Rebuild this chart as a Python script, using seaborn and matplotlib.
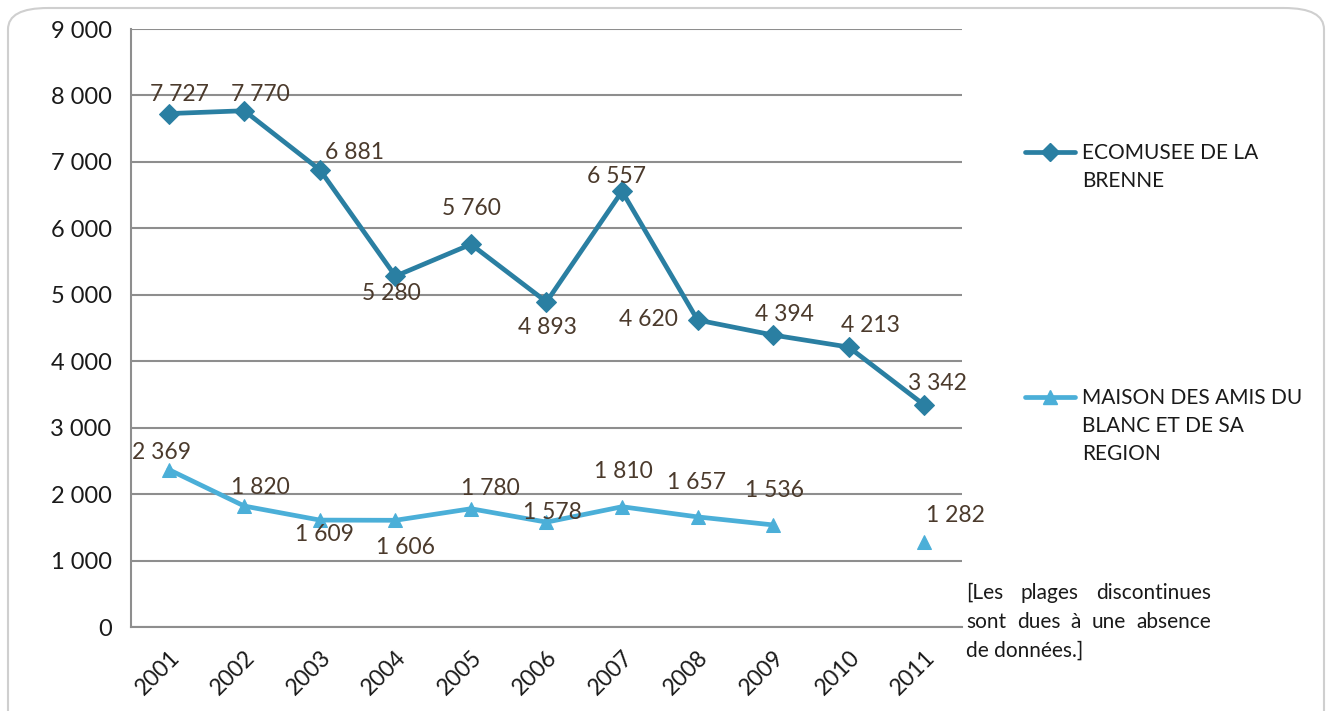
import numpy as np
import pandas as pd
import matplotlib.pyplot as plt
import seaborn as sns
from matplotlib.lines import Line2D
from matplotlib.patches import FancyBboxPatch

# Chart data
years = ["2001", "2002", "2003", "2004", "2005", "2006", "2007", "2008", "2009", "2010", "2011"]
ecomusee = [7727, 7770, 6881, 5280, 5760, 4893, 6557, 4620, 4394, 4213, 3342]
maison = [2369, 1820, 1609, 1606, 1780, 1578, 1810, 1657, 1536, np.nan, 1282]
series_names = ["ECOMUSEE DE LA\nBRENNE", "MAISON DES AMIS DU\nBLANC ET DE SA\nREGION"]
note = ["[Les plages discontinues", "sont dues à une absence", "de données.]"]

# label offsets in pixels (placement of the value labels)
off_eco = [(11, -19), (16, -16), (35, -17), (-4, 17), (0, -36), (1, 26),
           (-6, -15), (-49, -1), (11, -21), (22, -22), (13, -21)]
off_mai = [(-7, -17), (16, -19), (5, 14), (10, 27), (19, -20), (6, -10),
           (1, -35), (-1, -34), (1, -34), (0, 0), (31, -26)]

dark = "#2a7fa2"
light = "#4bafd8"
label_col = "#4b3a2c"
grid_col = "#8e8e8e"

sns.set_style("white")
plt.rcParams['font.family'] = ['Lato', 'DejaVu Sans']

# long-form table, with a segment id so that missing years break the line
rows = []
for name, vals in zip(series_names, [ecomusee, maison]):
    seg = 0
    for i, v in enumerate(vals):
        if np.isnan(v):
            seg += 1
            continue
        rows.append({"pos": i, "value": v, "serie": name, "seg": f"{name}-{seg}"})
df = pd.DataFrame(rows)

W, H = 1331, 711
fig = plt.figure(figsize=(W / 100, H / 100), dpi=100)
ax = fig.add_axes([131 / W, 1 - 627 / H, (962 - 131) / W, (627 - 29) / H])

styles = {series_names[0]: (dark, "D", 10), series_names[1]: (light, "^", 10.5)}
for name in series_names:
    col, mk, ms = styles[name]
    sns.lineplot(data=df[df["serie"] == name], x="pos", y="value", units="seg",
                 estimator=None, color=col, linewidth=3.4, marker=mk,
                 markersize=ms, markeredgecolor=col, ax=ax, legend=False)

# value labels
for vals, offs in [(ecomusee, off_eco), (maison, off_mai)]:
    for i, (v, o) in enumerate(zip(vals, offs)):
        if np.isnan(v):
            continue
        txt = f"{int(v):,}".replace(",", " ")
        ax.annotate(txt, (i, v), xytext=(o[0] * 0.72, -o[1] * 0.72),
                    textcoords="offset points", ha="center", va="center",
                    fontsize=16.5, color=label_col)

ax.set_xlim(-0.5, len(years) - 0.5)
ax.set_ylim(0, 9000)
ax.set_yticks(range(0, 9001, 1000))
ax.set_yticklabels([f"{t:,}".replace(",", " ") for t in range(0, 9001, 1000)],
                   fontsize=17, color="#1a1a1a")
ax.set_xticks(range(len(years)))
ax.set_xticklabels(years, rotation=45, ha="right", rotation_mode="anchor",
                   fontsize=16.5, color="#1a1a1a")
ax.set_xticks(np.arange(-0.5, len(years), 1), minor=True)
ax.tick_params(axis="x", which="major", length=0, pad=14)
ax.tick_params(axis="x", which="minor", length=6, color=grid_col, width=1.5)
ax.tick_params(axis="y", length=6, color=grid_col, width=1.5, pad=8)
ax.set_xlabel("")
ax.set_ylabel("")
ax.yaxis.grid(True, color=grid_col, linewidth=1.5)
ax.set_axisbelow(True)
for s in ["top", "right"]:
    ax.spines[s].set_visible(False)
for s in ["left", "bottom"]:
    ax.spines[s].set_color(grid_col)
    ax.spines[s].set_linewidth(1.5)

# legend on the right
for (y, name) in [(152, series_names[0]), (397, series_names[1])]:
    col, mk, ms = styles[name]
    fig.add_artist(Line2D([1025 / W, 1075 / W], [1 - y / H, 1 - y / H], color=col,
                          linewidth=3.4, solid_capstyle="round"))
    fig.add_artist(Line2D([1050 / W], [1 - y / H], color=col, marker=mk,
                          markersize=ms - 1, linestyle="none"))
    fig.text(1082 / W, 1 - (y - 9) / H, name, fontsize=15, va="top", ha="left",
             linespacing=1.5, color="#1a1a1a")

# note, justified between x=966 and x=1211 (last line left aligned)
renderer = fig.canvas.get_renderer()
x0, x1 = 966, 1211
for k, line in enumerate(note):
    yk = 1 - (593 + k * 29) / H
    words = line.split(" ")
    if k == len(note) - 1:
        fig.text(x0 / W, yk, line, fontsize=15, va="center", ha="left", color="#1a1a1a")
        continue
    arts = [fig.text(0, yk, w_, fontsize=15, va="center", ha="left", color="#1a1a1a")
            for w_ in words]
    widths = [a.get_window_extent(renderer).width for a in arts]
    gap = (x1 - x0 - sum(widths)) / (len(words) - 1)
    xpos = x0
    for a, wd in zip(arts, widths):
        a.set_x(xpos / W)
        xpos += wd + gap

# rounded frame around the whole picture
fig.add_artist(FancyBboxPatch((8 / W, -0.05), (1316 / W), 1 - 8 / H + 0.05,
                              boxstyle="round,pad=0,rounding_size=0.03",
                              transform=fig.transFigure, facecolor="none",
                              edgecolor="#cfcfcf", linewidth=1.5))

fig.savefig("out.png", dpi=100)
